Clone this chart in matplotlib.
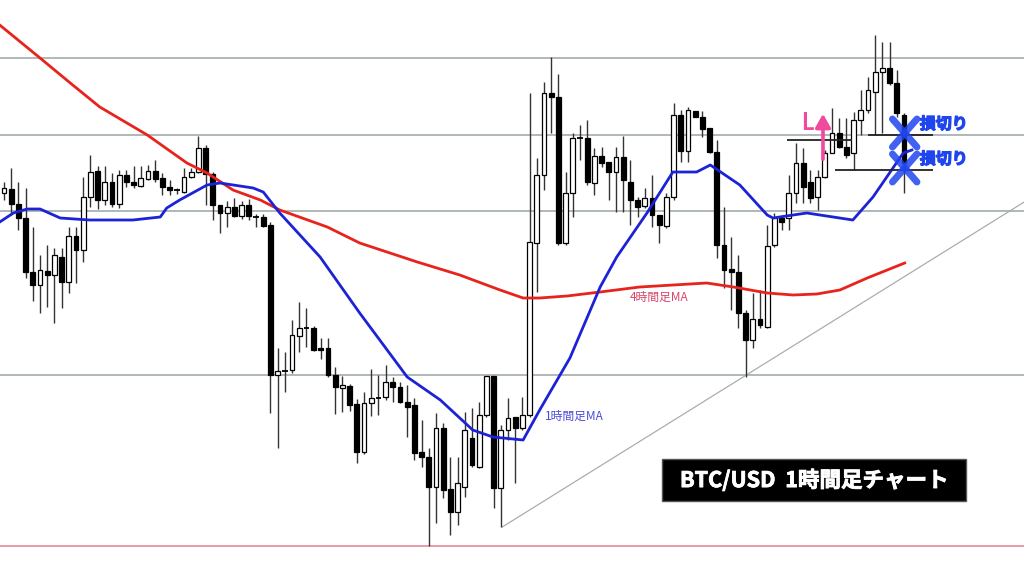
"""Recreate the BTC/USD 1-hour candlestick chart with stop-loss notes."""

import matplotlib

matplotlib.use("Agg")
import matplotlib.patheffects as pe
import matplotlib.pyplot as plt
from matplotlib.patches import Rectangle

plt.rcParams["font.family"] = ["Noto Sans CJK JP", "DejaVu Sans"]

# OHLC per 1h candle (arbitrary price units)
opens = [
    383, 387, 372, 358, 304, 291, 305, 301, 319, 294,
    340, 326, 379, 405, 376, 394, 372, 401, 394, 390,
    397, 405, 398, 389, 386, 384, 399, 404, 428, 402,
    371, 363, 369, 360, 371, 359, 359, 351, 201, 205,
    206, 240, 248, 248, 228, 228, 201, 188, 190, 172,
    124, 173, 178, 179, 194, 189, 174, 171, 124, 119,
    89, 148, 87, 64, 89, 138, 109, 161, 200, 88,
    146, 159, 148, 161, 333, 401, 483, 479, 333, 383,
    438, 438, 393, 420, 414, 404, 419, 394, 376, 370,
    378, 361, 350, 379, 461, 425, 465, 459, 448, 424,
    331, 307, 304, 263, 236, 257, 249, 331, 358, 358,
    383, 413, 394, 379, 399, 423, 443, 429, 423, 456,
    466, 484, 504, 508, 493, 461,
]
highs = [
    394, 408, 394, 388, 349, 321, 331, 328, 328, 349,
    349, 399, 421, 410, 410, 403, 406, 406, 410, 410,
    411, 416, 403, 396, 388, 408, 408, 440, 431, 404,
    371, 375, 378, 375, 377, 362, 362, 354, 228, 224,
    256, 274, 268, 250, 238, 238, 209, 200, 192, 177,
    184, 207, 201, 211, 199, 194, 191, 178, 156, 128,
    163, 153, 119, 119, 164, 168, 174, 200, 200, 151,
    178, 159, 179, 483, 418, 494, 519, 502, 404, 443,
    451, 456, 428, 429, 414, 429, 440, 416, 379, 388,
    401, 361, 383, 473, 466, 469, 465, 465, 448, 436,
    369, 339, 321, 266, 283, 286, 351, 363, 361, 401,
    433, 428, 406, 406, 426, 468, 458, 458, 464, 486,
    499, 541, 534, 534, 506, 463,
]
lows = [
    376, 361, 346, 298, 275, 263, 269, 253, 268, 283,
    293, 314, 369, 367, 371, 369, 368, 389, 388, 389,
    396, 394, 381, 381, 382, 383, 398, 403, 371, 356,
    343, 349, 359, 357, 356, 349, 349, 163, 128, 184,
    203, 224, 229, 225, 217, 199, 162, 164, 165, 113,
    122, 160, 161, 176, 174, 173, 139, 116, 109, 30,
    53, 78, 41, 51, 79, 109, 108, 159, 68, 49,
    136, 93, 146, 159, 284, 386, 443, 331, 331, 359,
    416, 391, 381, 409, 376, 364, 364, 351, 359, 368,
    349, 333, 348, 376, 414, 414, 459, 439, 423, 318,
    288, 266, 248, 199, 228, 248, 248, 329, 346, 346,
    373, 373, 373, 366, 398, 423, 428, 418, 406, 441,
    463, 441, 443, 491, 459, 383,
]
closes = [
    388, 372, 358, 304, 291, 306, 301, 321, 294, 340,
    326, 379, 404, 376, 394, 372, 401, 394, 391, 398,
    405, 397, 389, 386, 386, 399, 404, 428, 402, 371,
    363, 369, 360, 371, 360, 359, 350, 201, 205, 206,
    241, 248, 248, 226, 226, 201, 189, 191, 171, 124,
    173, 178, 179, 194, 189, 174, 169, 123, 119, 89,
    148, 86, 64, 93, 146, 111, 161, 200, 88, 146,
    158, 148, 161, 334, 401, 483, 479, 333, 383, 438,
    438, 394, 420, 413, 404, 419, 396, 376, 369, 378,
    361, 351, 379, 461, 425, 466, 459, 447, 424, 331,
    306, 304, 263, 236, 257, 251, 330, 358, 354, 383,
    413, 389, 378, 399, 423, 443, 429, 421, 456, 466,
    486, 504, 508, 493, 463, 413,
]

# moving averages, read at candle-index positions
ma4h_x = [-0.6, 5.0, 9.2, 13.3, 19.9, 25.4, 28.2, 31.8, 35.6, 38.3, 44.9, 49.4,
          57.4, 63.3, 68.9, 72.1, 74.4, 78.2, 82.8, 88.3, 97.6, 101.3, 106.0,
          109.6, 112.9, 116.1, 119.9, 125.1]
ma4h = [551, 518, 493, 469, 441, 413, 403, 386, 376, 366, 349, 333,
        314, 301, 286, 278, 278, 280, 284, 289, 293, 289, 283,
        281, 282, 286, 298, 313]
ma1h_x = [-0.6, 1.3, 3.2, 5.0, 7.8, 11.9, 17.9, 21.7, 22.6, 24.4, 28.2, 30.0,
          34.6, 36.0, 38.3, 43.9, 49.4, 56.0, 60.6, 65.1, 67.9, 72.1, 74.4,
          78.6, 82.8, 85.1, 89.3, 92.9, 96.2, 98.1, 102.2, 106.0, 106.8,
          111.5, 117.9, 120.7, 124.9, 126.1]
ma1h = [354, 363, 367, 367, 358, 356, 356, 359, 368, 376, 391, 393,
        388, 384, 363, 319, 263, 199, 176, 146, 139, 136, 166,
        218, 289, 319, 363, 404, 404, 411, 391, 361, 358,
        363, 356, 379, 423, 426]

# horizontal levels and trend line
levels = [518, 441, 365, 201]
bottom_level = 30
trend_x = [69.2, 141.7]
trend_y = [49, 374]

# entry / stop-loss lines: (start index, end index, price)
entry_lines = [(108.8, 117.8, 436), (120.0, 129.0, 441), (115.4, 129.0, 406)]
stop_marks = [443, 408]

PINK = "#ef4a9e"
STOP_BLUE = "#1f45ee"


def draw_candles(ax) -> None:
    """Draw wicks and bodies for each candle."""
    xs = range(len(opens))
    ax.vlines(xs, lows, highs, color="#333333", linewidth=1.0, zorder=3)
    for i, (o, c) in enumerate(zip(opens, closes)):
        face = "white" if c > o else "black"
        height = abs(c - o)
        if height < 1.5:
            ax.hlines(o, i - 0.38, i + 0.38, color="black", linewidth=1.3, zorder=4)
            continue
        ax.bar(i, height, bottom=min(o, c), width=0.68, color=face,
               edgecolor="black", linewidth=0.9, zorder=4)


def main() -> None:
    """Build the chart and save it."""
    fig = plt.figure(figsize=(10.24, 5.76), dpi=100)
    ax = fig.add_axes([0, 0, 1, 1])
    ax.set_xlim(-0.56, 141.67)
    ax.set_ylim(0, 576)
    ax.axis("off")

    for level in levels:
        ax.axhline(level, color="#a3abab", linewidth=1.2, zorder=1)
    ax.axhline(bottom_level, color="#e58a9a", linewidth=1.2, zorder=1)
    ax.plot(trend_x, trend_y, color="#a9adb3", linewidth=0.9, zorder=1)

    ax.plot(ma4h_x, ma4h, color="#e8231c", linewidth=2.0, zorder=5)
    ax.plot(ma1h_x, ma1h, color="#1c22d6", linewidth=2.0, zorder=5)

    draw_candles(ax)

    for x0, x1, price in entry_lines:
        ax.hlines(price, x0, x1, color="#222222", linewidth=1.3, zorder=6)

    bold_blue = [pe.withStroke(linewidth=0.9, foreground=STOP_BLUE)]
    for price in stop_marks:
        ax.plot([123.4, 126.8], [price + 14, price - 14], color=STOP_BLUE,
                linewidth=5, alpha=0.85, solid_capstyle="round", zorder=7)
        ax.plot([123.4, 126.8], [price - 14, price + 14], color=STOP_BLUE,
                linewidth=5, alpha=0.85, solid_capstyle="round", zorder=7)
        ax.text(127.2, price + 9, "損切り", color=STOP_BLUE, fontsize=11.5,
                fontweight="bold", va="center", ha="left",
                path_effects=bold_blue, zorder=8)

    ax.text(111.6, 453, "L", color=PINK, fontsize=17, fontweight="bold",
            ha="center", va="center", family=["Lato", "DejaVu Sans"], zorder=8)
    ax.annotate("", xy=(113.75, 465), xytext=(113.75, 414),
                arrowprops=dict(arrowstyle="-|>,head_width=0.45,head_length=0.8",
                                color=PINK, linewidth=2.6), zorder=8)

    ax.text(86.9, 279, "4時間足MA", color="#d8456a", fontsize=8.5,
            ha="left", va="center", zorder=8)
    ax.text(75.1, 160, "1時間足MA", color="#4a4ad8", fontsize=8.5,
            ha="left", va="center", zorder=8)

    ax.add_patch(Rectangle((0.6465, 0.130), 0.297, 0.073, transform=ax.transAxes,
                           facecolor="black", edgecolor="#555555", zorder=9))
    ax.text(0.795, 0.1665, "BTC/USD  1時間足チャート", transform=ax.transAxes,
            color="white", fontsize=15.5, fontweight="bold", ha="center",
            va="center", path_effects=[pe.withStroke(linewidth=0.6, foreground="white")],
            zorder=10)

    fig.savefig("out.png", dpi=100)
    plt.close(fig)


if __name__ == "__main__":
    main()
